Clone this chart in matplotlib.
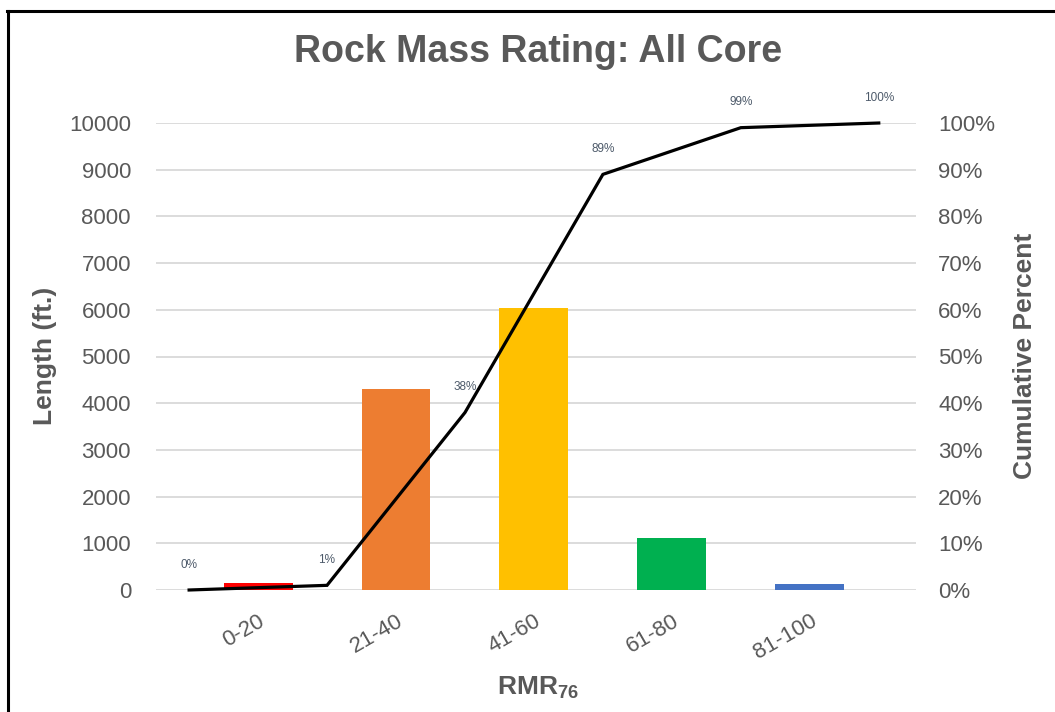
import matplotlib
matplotlib.use("Agg")
import matplotlib.pyplot as plt
from matplotlib.lines import Line2D
import numpy as np

plt.rcParams['font.family'] = ['Liberation Sans', 'DejaVu Sans']
plt.rcParams['mathtext.fontset'] = 'custom'
plt.rcParams['mathtext.rm'] = 'Liberation Sans'
plt.rcParams['mathtext.bf'] = 'Liberation Sans:bold'

# Core length per RMR class
categories = ["0-20", "21-40", "41-60", "61-80", "81-100"]
lengths = [150, 4300, 6040, 1110, 130]
bar_colors = ["#FF0000", "#ED7D31", "#FFC000", "#00B050", "#4472C4"]

# Cumulative percent at class boundaries
cum_percent = [0, 1, 38, 89, 99, 100]
cum_labels = ["0%", "1%", "38%", "89%", "99%", "100%"]

length_ticks = list(range(0, 10001, 1000))
pct_ticks = list(range(0, 101, 10))

W, H = 1055, 712
fig = plt.figure(figsize=(W / 100, H / 100), dpi=100)
fig.patch.set_facecolor("white")

left, right, top, bottom = 156, 916, 123, 590
ax = fig.add_axes([left / W, 1 - bottom / H, (right - left) / W, (bottom - top) / H])

gray = "#595959"
x = np.arange(len(categories))
ax.bar(x, lengths, width=0.5, color=bar_colors, zorder=2)
ax.set_xlim(-0.74, 4.77)
ax.set_ylim(0, 10000)
ax.set_yticks(length_ticks)
ax.set_yticklabels([str(v) for v in length_ticks])
ax.yaxis.grid(True, color="#d9d9d9", linewidth=1.3, zorder=0)
ax.set_axisbelow(True)
for s in ax.spines.values():
    s.set_visible(False)
ax.tick_params(axis="y", length=0, pad=18, labelsize=16, labelcolor=gray)
ax.tick_params(axis="x", length=0, pad=15)
ax.set_xticks(x)
ax.set_xticklabels(categories, rotation=30, ha="right", rotation_mode="anchor",
                   fontsize=16, color=gray)

ax2 = ax.twinx()
ax2.set_ylim(0, 100)
ax2.set_yticks(pct_ticks)
ax2.set_yticklabels([f"{v}%" for v in pct_ticks])
for s in ax2.spines.values():
    s.set_visible(False)
ax2.tick_params(axis="y", length=0, pad=16, labelsize=16, labelcolor=gray)

xc = np.arange(len(cum_percent)) - 0.5
ax2.plot(xc, cum_percent, color="black", linewidth=2.3, clip_on=False, zorder=3,
         solid_joinstyle="miter")
for xi, yi, lab in zip(xc, cum_percent, cum_labels):
    ax2.annotate(lab, (xi, yi), xytext=(0, 14), textcoords="offset points",
                 ha="center", va="bottom", fontsize=8.5, color="#4d5a6a")

fig.text(538 / W, 1 - 52 / H, "Rock Mass Rating: All Core", ha="center", va="center",
         fontsize=27, fontweight="bold", color=gray)
fig.text(45 / W, 1 - 356 / H, "Length (ft.)", ha="center", va="center", rotation=90,
         fontsize=19, fontweight="bold", color=gray)
fig.text(1025 / W, 1 - 356 / H, "Cumulative Percent", ha="center", va="center", rotation=90,
         fontsize=19, fontweight="bold", color=gray)
fig.text(538 / W, 1 - 688 / H, r"$\mathbf{RMR_{76}}$", ha="center", va="center",
         fontsize=19, color=gray)

# Outer frame (top and left edges)
fig.add_artist(Line2D([7 / W, 1], [1 - 11 / H, 1 - 11 / H], color="black", linewidth=2.2,
                      transform=fig.transFigure))
fig.add_artist(Line2D([8 / W, 8 / W], [0, 1 - 11 / H], color="black", linewidth=2.2,
                      transform=fig.transFigure))

fig.savefig("out.png", dpi=100, facecolor="white")
